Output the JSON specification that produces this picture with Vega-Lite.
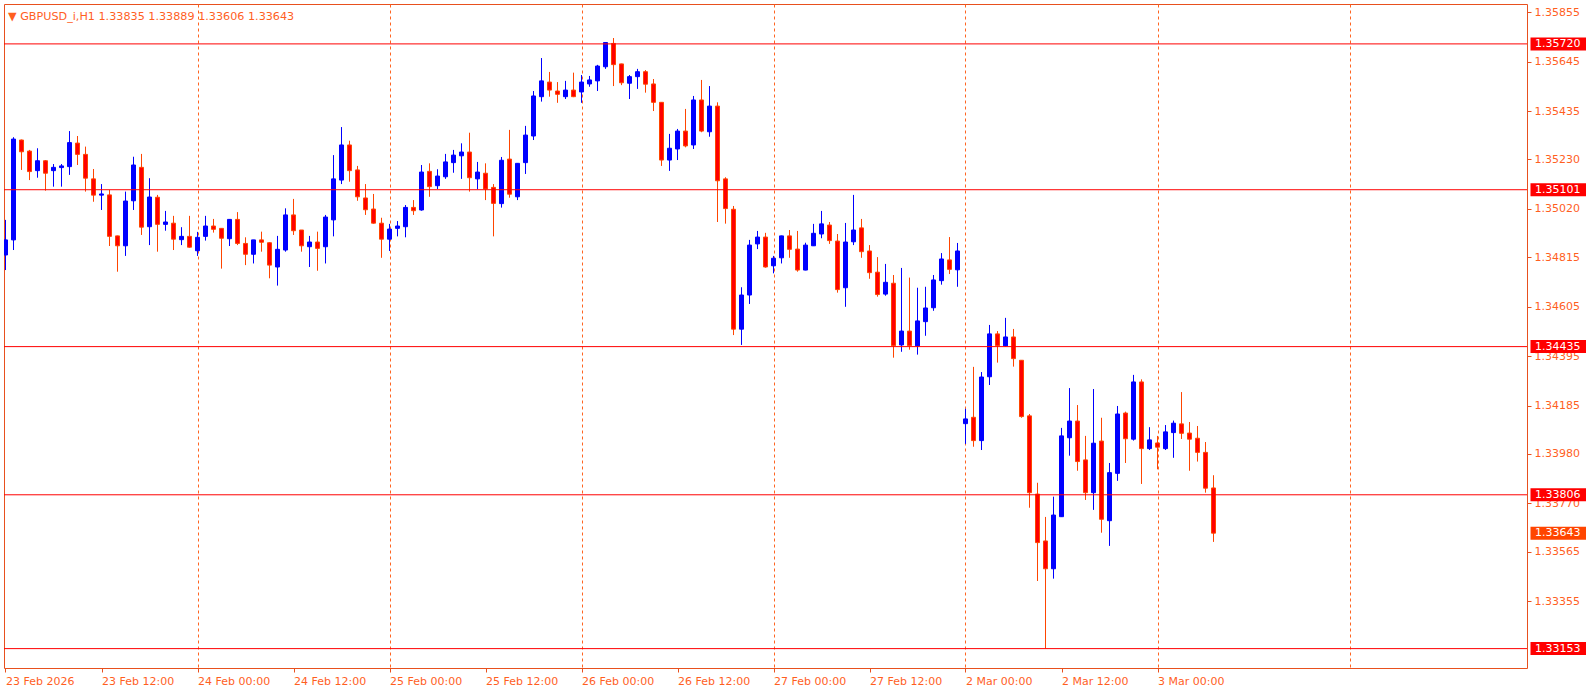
{
  "$schema": "https://vega.github.io/schema/vega-lite/v6.json",
  "width": 1523,
  "height": 664,
  "autosize": "none",
  "padding": {"left": 4, "top": 4, "right": 59, "bottom": 27},
  "background": "white",
  "config": {
    "view": {"stroke": "#E8501E", "strokeWidth": 1},
    "font": "DejaVu Sans"
  },
  "title": {
    "text": "▼   GBPUSD_i,H1  1.33835 1.33889 1.33606 1.33643",
    "anchor": "start",
    "frame": "group",
    "orient": "top",
    "baseline": "bottom",
    "offset": -29,
    "dx": 4,
    "fontSize": 11.2,
    "fontWeight": "normal",
    "font": "DejaVu Sans",
    "color": "#FF5F1F"
  },
  "datasets": {
    "bars": [
      {"i":0,"open":1.34824,"high":1.34973,"low":1.34760,"close":1.34888},
      {"i":1,"open":1.34888,"high":1.35324,"low":1.34845,"close":1.35316},
      {"i":2,"open":1.35312,"high":1.35314,"low":1.35185,"close":1.35262},
      {"i":3,"open":1.35265,"high":1.35270,"low":1.35142,"close":1.35178},
      {"i":4,"open":1.35182,"high":1.35277,"low":1.35152,"close":1.35224},
      {"i":5,"open":1.35224,"high":1.35227,"low":1.35097,"close":1.35171},
      {"i":6,"open":1.35182,"high":1.35210,"low":1.35114,"close":1.35196},
      {"i":7,"open":1.35195,"high":1.35210,"low":1.35114,"close":1.35202},
      {"i":8,"open":1.35199,"high":1.35350,"low":1.35164,"close":1.35301},
      {"i":9,"open":1.35299,"high":1.35329,"low":1.35206,"close":1.35251},
      {"i":10,"open":1.35251,"high":1.35284,"low":1.35093,"close":1.35150},
      {"i":11,"open":1.35147,"high":1.35189,"low":1.35050,"close":1.35078},
      {"i":12,"open":1.35078,"high":1.35125,"low":1.35015,"close":1.35083},
      {"i":13,"open":1.35079,"high":1.35100,"low":1.34862,"close":1.34903},
      {"i":14,"open":1.34905,"high":1.34906,"low":1.34753,"close":1.34863},
      {"i":15,"open":1.34863,"high":1.35093,"low":1.34820,"close":1.35053},
      {"i":16,"open":1.35054,"high":1.35241,"low":1.35015,"close":1.35206},
      {"i":17,"open":1.35196,"high":1.35253,"low":1.34909,"close":1.34942},
      {"i":18,"open":1.34944,"high":1.35150,"low":1.34866,"close":1.35070},
      {"i":19,"open":1.35069,"high":1.35079,"low":1.34838,"close":1.34954},
      {"i":20,"open":1.34954,"high":1.35011,"low":1.34927,"close":1.34964},
      {"i":21,"open":1.34959,"high":1.34990,"low":1.34845,"close":1.34891},
      {"i":22,"open":1.34889,"high":1.34942,"low":1.34866,"close":1.34903},
      {"i":23,"open":1.34903,"high":1.34990,"low":1.34855,"close":1.34857},
      {"i":24,"open":1.34842,"high":1.34922,"low":1.34820,"close":1.34899},
      {"i":25,"open":1.34903,"high":1.34990,"low":1.34885,"close":1.34947},
      {"i":26,"open":1.34947,"high":1.34977,"low":1.34919,"close":1.34933},
      {"i":27,"open":1.34937,"high":1.34938,"low":1.34766,"close":1.34895},
      {"i":28,"open":1.34893,"high":1.34976,"low":1.34862,"close":1.34975},
      {"i":29,"open":1.34975,"high":1.35006,"low":1.34866,"close":1.34873},
      {"i":30,"open":1.34873,"high":1.34899,"low":1.34781,"close":1.34827},
      {"i":31,"open":1.34827,"high":1.34888,"low":1.34788,"close":1.34888},
      {"i":32,"open":1.34888,"high":1.34923,"low":1.34838,"close":1.34878},
      {"i":33,"open":1.34876,"high":1.34878,"low":1.34725,"close":1.34781},
      {"i":34,"open":1.34773,"high":1.34905,"low":1.34694,"close":1.34848},
      {"i":35,"open":1.34845,"high":1.35022,"low":1.34838,"close":1.34994},
      {"i":36,"open":1.34994,"high":1.35062,"low":1.34909,"close":1.34927},
      {"i":37,"open":1.34930,"high":1.34930,"low":1.34838,"close":1.34863},
      {"i":38,"open":1.34859,"high":1.34905,"low":1.34773,"close":1.34879},
      {"i":39,"open":1.34879,"high":1.34923,"low":1.34757,"close":1.34852},
      {"i":40,"open":1.34859,"high":1.34994,"low":1.34788,"close":1.34985},
      {"i":41,"open":1.34973,"high":1.35248,"low":1.34903,"close":1.35147},
      {"i":42,"open":1.35142,"high":1.35367,"low":1.35125,"close":1.35291},
      {"i":43,"open":1.35291,"high":1.35309,"low":1.35135,"close":1.35182},
      {"i":44,"open":1.35185,"high":1.35202,"low":1.35054,"close":1.35071},
      {"i":45,"open":1.35066,"high":1.35125,"low":1.34994,"close":1.35016},
      {"i":46,"open":1.35019,"high":1.35083,"low":1.34957,"close":1.34959},
      {"i":47,"open":1.34959,"high":1.34982,"low":1.34812,"close":1.34891},
      {"i":48,"open":1.34891,"high":1.34956,"low":1.34841,"close":1.34934},
      {"i":49,"open":1.34937,"high":1.34968,"low":1.34903,"close":1.34947},
      {"i":50,"open":1.34944,"high":1.35036,"low":1.34899,"close":1.35026},
      {"i":51,"open":1.35026,"high":1.35057,"low":1.34994,"close":1.35012},
      {"i":52,"open":1.35015,"high":1.35206,"low":1.35012,"close":1.35176},
      {"i":53,"open":1.35179,"high":1.35213,"low":1.35071,"close":1.35114},
      {"i":54,"open":1.35118,"high":1.35188,"low":1.35104,"close":1.35159},
      {"i":55,"open":1.35156,"high":1.35253,"low":1.35147,"close":1.35219},
      {"i":56,"open":1.35216,"high":1.35270,"low":1.35173,"close":1.35248},
      {"i":57,"open":1.35245,"high":1.35298,"low":1.35147,"close":1.35261},
      {"i":58,"open":1.35261,"high":1.35343,"low":1.35093,"close":1.35152},
      {"i":59,"open":1.35147,"high":1.35219,"low":1.35103,"close":1.35176},
      {"i":60,"open":1.35171,"high":1.35213,"low":1.35057,"close":1.35104},
      {"i":61,"open":1.35111,"high":1.35125,"low":1.34903,"close":1.35043},
      {"i":62,"open":1.35042,"high":1.35240,"low":1.35025,"close":1.35226},
      {"i":63,"open":1.35231,"high":1.35355,"low":1.35067,"close":1.35082},
      {"i":64,"open":1.35071,"high":1.35213,"low":1.35057,"close":1.35213},
      {"i":65,"open":1.35216,"high":1.35372,"low":1.35168,"close":1.35333},
      {"i":66,"open":1.35329,"high":1.35520,"low":1.35312,"close":1.35499},
      {"i":67,"open":1.35496,"high":1.35660,"low":1.35475,"close":1.35563},
      {"i":68,"open":1.35558,"high":1.35601,"low":1.35496,"close":1.35524},
      {"i":69,"open":1.35520,"high":1.35558,"low":1.35470,"close":1.35506},
      {"i":70,"open":1.35496,"high":1.35563,"low":1.35486,"close":1.35524},
      {"i":71,"open":1.35524,"high":1.35598,"low":1.35494,"close":1.35496},
      {"i":72,"open":1.35516,"high":1.35588,"low":1.35470,"close":1.35558},
      {"i":73,"open":1.35550,"high":1.35584,"low":1.35538,"close":1.35567},
      {"i":74,"open":1.35563,"high":1.35631,"low":1.35520,"close":1.35626},
      {"i":75,"open":1.35623,"high":1.35728,"low":1.35614,"close":1.35726},
      {"i":76,"open":1.35722,"high":1.35745,"low":1.35541,"close":1.35632},
      {"i":77,"open":1.35635,"high":1.35636,"low":1.35545,"close":1.35555},
      {"i":78,"open":1.35553,"high":1.35588,"low":1.35486,"close":1.35581},
      {"i":79,"open":1.35581,"high":1.35614,"low":1.35529,"close":1.35602},
      {"i":80,"open":1.35602,"high":1.35609,"low":1.35513,"close":1.35549},
      {"i":81,"open":1.35550,"high":1.35571,"low":1.35435,"close":1.35472},
      {"i":82,"open":1.35472,"high":1.35473,"low":1.35202,"close":1.35227},
      {"i":83,"open":1.35227,"high":1.35338,"low":1.35181,"close":1.35277},
      {"i":84,"open":1.35274,"high":1.35359,"low":1.35227,"close":1.35350},
      {"i":85,"open":1.35350,"high":1.35444,"low":1.35281,"close":1.35287},
      {"i":86,"open":1.35291,"high":1.35499,"low":1.35274,"close":1.35482},
      {"i":87,"open":1.35482,"high":1.35567,"low":1.35345,"close":1.35350},
      {"i":88,"open":1.35347,"high":1.35541,"low":1.35326,"close":1.35456},
      {"i":89,"open":1.35456,"high":1.35472,"low":1.34964,"close":1.35139},
      {"i":90,"open":1.35147,"high":1.35154,"low":1.34957,"close":1.35021},
      {"i":91,"open":1.35018,"high":1.35032,"low":1.34484,"close":1.34509},
      {"i":92,"open":1.34509,"high":1.34687,"low":1.34442,"close":1.34654},
      {"i":93,"open":1.34654,"high":1.34888,"low":1.34616,"close":1.34866},
      {"i":94,"open":1.34871,"high":1.34926,"low":1.34849,"close":1.34900},
      {"i":95,"open":1.34900,"high":1.34918,"low":1.34770,"close":1.34773},
      {"i":96,"open":1.34778,"high":1.34820,"low":1.34746,"close":1.34810},
      {"i":97,"open":1.34812,"high":1.34906,"low":1.34788,"close":1.34905},
      {"i":98,"open":1.34905,"high":1.34930,"low":1.34812,"close":1.34848},
      {"i":99,"open":1.34849,"high":1.34926,"low":1.34753,"close":1.34760},
      {"i":100,"open":1.34760,"high":1.34876,"low":1.34759,"close":1.34866},
      {"i":101,"open":1.34863,"high":1.34956,"low":1.34862,"close":1.34916},
      {"i":102,"open":1.34913,"high":1.35011,"low":1.34895,"close":1.34956},
      {"i":103,"open":1.34951,"high":1.34964,"low":1.34871,"close":1.34885},
      {"i":104,"open":1.34883,"high":1.34913,"low":1.34664,"close":1.34677},
      {"i":105,"open":1.34685,"high":1.34960,"low":1.34604,"close":1.34879},
      {"i":106,"open":1.34880,"high":1.35079,"low":1.34866,"close":1.34930},
      {"i":107,"open":1.34939,"high":1.34977,"low":1.34812,"close":1.34838},
      {"i":108,"open":1.34841,"high":1.34866,"low":1.34723,"close":1.34749},
      {"i":109,"open":1.34751,"high":1.34815,"low":1.34647,"close":1.34656},
      {"i":110,"open":1.34658,"high":1.34786,"low":1.34651,"close":1.34708},
      {"i":111,"open":1.34704,"high":1.34739,"low":1.34388,"close":1.34439},
      {"i":112,"open":1.34442,"high":1.34769,"low":1.34413,"close":1.34501},
      {"i":113,"open":1.34501,"high":1.34728,"low":1.34422,"close":1.34439},
      {"i":114,"open":1.34438,"high":1.34685,"low":1.34401,"close":1.34544},
      {"i":115,"open":1.34541,"high":1.34689,"low":1.34481,"close":1.34599},
      {"i":116,"open":1.34600,"high":1.34739,"low":1.34587,"close":1.34718},
      {"i":117,"open":1.34715,"high":1.34832,"low":1.34698,"close":1.34807},
      {"i":118,"open":1.34803,"high":1.34900,"low":1.34743,"close":1.34763},
      {"i":119,"open":1.34761,"high":1.34875,"low":1.34689,"close":1.34841},
      {"i":120,"open":1.34108,"high":1.34171,"low":1.34022,"close":1.34128},
      {"i":121,"open":1.34135,"high":1.34349,"low":1.34010,"close":1.34036},
      {"i":122,"open":1.34036,"high":1.34327,"low":1.33996,"close":1.34306},
      {"i":123,"open":1.34307,"high":1.34527,"low":1.34272,"close":1.34489},
      {"i":124,"open":1.34489,"high":1.34501,"low":1.34367,"close":1.34439},
      {"i":125,"open":1.34438,"high":1.34557,"low":1.34435,"close":1.34476},
      {"i":126,"open":1.34476,"high":1.34510,"low":1.34350,"close":1.34384},
      {"i":127,"open":1.34377,"high":1.34378,"low":1.34133,"close":1.34138},
      {"i":128,"open":1.34141,"high":1.34149,"low":1.33751,"close":1.33815},
      {"i":129,"open":1.33809,"high":1.33857,"low":1.33440,"close":1.33603},
      {"i":130,"open":1.33610,"high":1.33712,"low":1.33153,"close":1.33492},
      {"i":131,"open":1.33492,"high":1.33798,"low":1.33450,"close":1.33720},
      {"i":132,"open":1.33713,"high":1.34090,"low":1.33712,"close":1.34056},
      {"i":133,"open":1.34048,"high":1.34259,"low":1.33972,"close":1.34119},
      {"i":134,"open":1.34119,"high":1.34187,"low":1.33908,"close":1.33947},
      {"i":135,"open":1.33954,"high":1.34056,"low":1.33784,"close":1.33815},
      {"i":136,"open":1.33815,"high":1.34255,"low":1.33742,"close":1.34025},
      {"i":137,"open":1.34034,"high":1.34133,"low":1.33645,"close":1.33702},
      {"i":138,"open":1.33696,"high":1.33941,"low":1.33589,"close":1.33900},
      {"i":139,"open":1.33897,"high":1.34183,"low":1.33865,"close":1.34149},
      {"i":140,"open":1.34153,"high":1.34159,"low":1.33941,"close":1.34044},
      {"i":141,"open":1.34042,"high":1.34315,"low":1.34036,"close":1.34285},
      {"i":142,"open":1.34285,"high":1.34296,"low":1.33852,"close":1.34002},
      {"i":143,"open":1.34002,"high":1.34093,"low":1.33996,"close":1.34039},
      {"i":144,"open":1.34026,"high":1.34056,"low":1.33914,"close":1.34008},
      {"i":145,"open":1.34002,"high":1.34102,"low":1.33996,"close":1.34073},
      {"i":146,"open":1.34070,"high":1.34121,"low":1.33963,"close":1.34110},
      {"i":147,"open":1.34107,"high":1.34242,"low":1.34043,"close":1.34067},
      {"i":148,"open":1.34068,"high":1.34115,"low":1.33908,"close":1.34042},
      {"i":149,"open":1.34046,"high":1.34098,"low":1.33947,"close":1.33986},
      {"i":150,"open":1.33986,"high":1.34030,"low":1.33815,"close":1.33834},
      {"i":151,"open":1.33835,"high":1.33889,"low":1.33606,"close":1.33643}
    ],
    "levels": [
      {"price": 1.35720, "kind": "level"},
      {"price": 1.35101, "kind": "level"},
      {"price": 1.34435, "kind": "level"},
      {"price": 1.33806, "kind": "level"},
      {"price": 1.33153, "kind": "level"},
      {"price": 1.33643, "kind": "last"}
    ]
  },
  "layer": [
    {
      "data": {"name": "bars"},
      "mark": {"type": "rule", "clip": true, "strokeWidth": 1},
      "encoding": {
        "x": {
          "field": "i", "type": "quantitative",
          "scale": {"domain": [-0.1875, 190.1875], "nice": false, "zero": false, "padding": 0},
          "axis": {
            "orient": "bottom",
            "title": null,
            "values": [0, 12, 24, 36, 48, 60, 72, 84, 96, 108, 120, 132, 144, 168],
            "labelExpr": "['23 Feb 2026','23 Feb 12:00','24 Feb 00:00','24 Feb 12:00','25 Feb 00:00','25 Feb 12:00','26 Feb 00:00','26 Feb 12:00','27 Feb 00:00','27 Feb 12:00','2 Mar 00:00','2 Mar 12:00','3 Mar 00:00','',''][round(datum.value / 12)]",
            "labelAlign": "left",
            "labelBaseline": "top",
            "labelFlush": false,
            "labelOverlap": false,
            "labelBound": false,
            "labelColor": "#FF5F1F",
            "labelFont": "DejaVu Sans",
            "labelFontSize": 11,
            "labelPadding": 3,
            "domain": false,
            "ticks": true,
            "tickSize": 4,
            "tickColor": "#E8501E",
            "tickOpacity": {"condition": {"test": "datum.value < 160", "value": 1}, "value": 0},
            "grid": true,
            "gridColor": "#FF6420",
            "gridDash": [3, 3],
            "gridWidth": 1,
            "gridOpacity": {"condition": {"test": "datum.value > 0 && datum.value % 24 === 0", "value": 1}, "value": 0}
          }
        },
        "y": {
          "field": "low", "type": "quantitative",
          "scale": {"domain": [1.330707, 1.358894], "nice": false, "zero": false, "padding": 0},
          "axis": {
            "orient": "right",
            "title": null,
            "values": [1.35855, 1.35645, 1.35435, 1.3523, 1.3502, 1.34815, 1.34605, 1.34395, 1.34185, 1.3398, 1.3377, 1.33565, 1.33355],
            "format": ".5f",
            "labelColor": "#FF5F1F",
            "labelFont": "DejaVu Sans",
            "labelFontSize": 11,
            "labelPadding": 3,
            "labelBaseline": "middle",
            "labelFlush": false,
            "labelOverlap": false,
            "labelBound": false,
            "domain": false,
            "grid": false,
            "tickSize": 4,
            "tickColor": "#E8501E"
          }
        },
        "y2": {"field": "high"},
        "color": {"condition": {"test": "datum.close >= datum.open", "value": "#0000FF"}, "value": "#FF4500"}
      }
    },
    {
      "data": {"name": "bars"},
      "mark": {"type": "bar", "width": 4, "strokeWidth": 1, "clip": true},
      "encoding": {
        "x": {"field": "i", "type": "quantitative"},
        "y": {"field": "open", "type": "quantitative"},
        "y2": {"field": "close"},
        "fill": {"condition": {"test": "datum.close >= datum.open", "value": "#0000FF"}, "value": "#FF0000"},
        "stroke": {"condition": {"test": "datum.close >= datum.open", "value": "#0000FF"}, "value": "#FF4500"}
      }
    },
    {
      "data": {"name": "levels"},
      "transform": [{"filter": "datum.kind === 'level'"}],
      "mark": {"type": "rule", "color": "#FF0000", "strokeWidth": 1},
      "encoding": {
        "y": {"field": "price", "type": "quantitative"}
      }
    },
    {
      "data": {"name": "levels"},
      "mark": {"type": "bar", "height": 13, "clip": false},
      "encoding": {
        "y": {"field": "price", "type": "quantitative"},
        "x": {"datum": 190.625, "type": "quantitative"},
        "x2": {"datum": 197.6},
        "color": {"condition": {"test": "datum.kind === 'last'", "value": "#FF4500"}, "value": "#FF0000"}
      }
    },
    {
      "data": {"name": "levels"},
      "mark": {"type": "text", "align": "left", "baseline": "middle", "fontSize": 11, "font": "DejaVu Sans", "color": "#FFFFFF", "clip": false},
      "encoding": {
        "y": {"field": "price", "type": "quantitative"},
        "x": {"datum": 191.19, "type": "quantitative"},
        "text": {"field": "price", "type": "quantitative", "format": ".5f"}
      }
    }
  ]
}
